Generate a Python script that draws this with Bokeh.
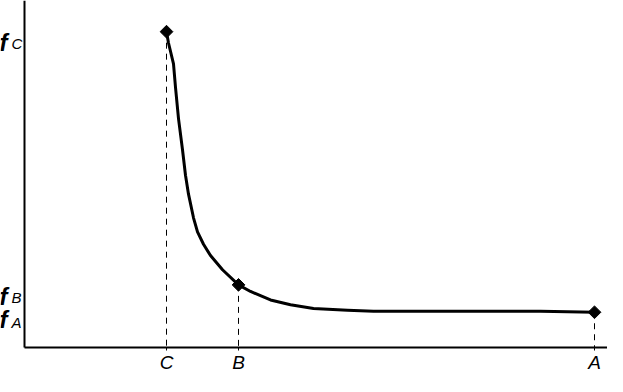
import math
from bokeh.plotting import figure
from bokeh.models import FixedTicker, ColumnDataSource
from bokeh.core.properties import value
from bokeh.embed import file_html
from bokeh.resources import INLINE

# ---- data ----
point_names = ["C", "B", "A"]
point_x = [142, 214, 570]
point_y = [334, 66, 37]

curve_x = [142, 144, 149, 151, 154, 158, 161, 164, 169, 173, 179, 186, 198,
           214, 226, 246, 266, 289, 323, 349, 406, 456, 516, 570]
curve_y = [334, 322, 300, 275, 242, 209, 182, 162, 137, 122, 109, 97, 82,
           66, 59, 50, 45, 41, 39, 38, 38, 38, 38, 37]

FONT = "Liberation Sans"

p = figure(width=607, height=376, output_backend="svg", toolbar_location=None,
           x_range=(-24, 583), y_range=(-31, 367),
           min_border_left=0, min_border_right=0, min_border_top=0, min_border_bottom=0)
p.background_fill_color = "white"
p.border_fill_color = "white"
p.outline_line_color = None
p.xgrid.visible = False
p.ygrid.visible = False

# x axis: line at y = 0, ticks at C, B, A
p.xaxis.fixed_location = 0
p.xaxis.bounds = (0, 583)
p.xaxis.ticker = FixedTicker(ticks=point_x)
p.xaxis.major_label_overrides = {x: n for x, n in zip(point_x, point_names)}
p.xaxis.minor_tick_line_color = None
p.xaxis.major_tick_in = 0
p.xaxis.major_tick_out = 3
p.xaxis.major_tick_line_color = "black"
p.xaxis.axis_line_width = 2
p.xaxis.axis_line_color = "black"
p.xaxis.major_label_text_font = FONT
p.xaxis.major_label_text_font_style = "italic"
p.xaxis.major_label_text_font_size = "19px"
p.xaxis.major_label_text_color = "black"
p.xaxis.major_label_standoff = 2

# y axis: bare line at x = 0
p.yaxis.fixed_location = 0
p.yaxis.bounds = (0, 367)
p.yaxis.ticker = FixedTicker(ticks=[])
p.yaxis.minor_tick_line_color = None
p.yaxis.major_tick_line_color = None
p.yaxis.major_tick_in = 0
p.yaxis.major_tick_out = 0
p.yaxis.major_label_standoff = 0
p.yaxis.major_label_text_font_size = "0px"
p.yaxis.axis_line_width = 2
p.yaxis.axis_line_color = "black"

# dashed drop lines
p.segment(x0=point_x, y0=point_y, x1=point_x, y1=[0] * len(point_x),
          line_color="black", line_width=1, line_dash="6 5")

# curve
p.line(curve_x, curve_y, line_color="black", line_width=3, line_join="round")

# diamond markers
p.scatter(point_x, point_y, marker="square", angle=math.pi / 4, size=9,
          fill_color="black", line_color="black")

# y labels f_C, f_B, f_A (left of the y axis)
lab = ColumnDataSource(dict(
    x=[0] * len(point_y), y=point_y,
    f=["f"] * len(point_y), sub=point_names,
    f_off=[11, 12, 7], sub_off=[12, 13, 10],
))
p.text(x="x", y="y", text="f", source=lab, x_offset=-25, y_offset="f_off",
       text_font=value(FONT), text_font_style="bold italic", text_font_size="24px",
       text_baseline="alphabetic", text_align="left", text_color="black")
p.text(x="x", y="y", text="sub", source=lab, x_offset=-13, y_offset="sub_off",
       text_font=value(FONT), text_font_style="italic", text_font_size="15px",
       text_baseline="alphabetic", text_align="left", text_color="black")

open("out.html", "w").write(file_html(p, INLINE))
